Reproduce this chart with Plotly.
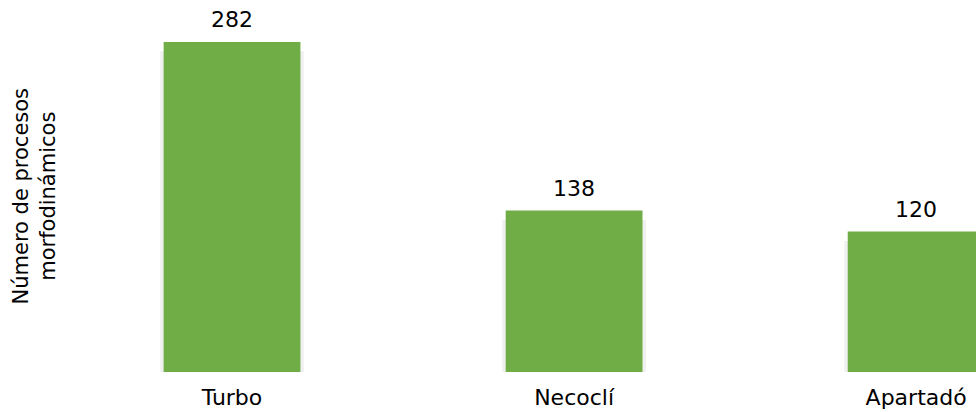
import plotly.graph_objects as go

categories = ["Turbo", "Necoclí", "Apartadó"]
values = [282, 138, 120]
y_title = "Número de procesos<br>morfodinámicos"

GREEN = "#70AD47"
FONT = "DejaVu Sans"
FS = 22

fig = go.Figure()

# soft drop shadow behind the bars
fig.add_trace(go.Bar(
    x=categories, y=[v - 6 for v in values], base=-2,
    width=0.42, marker=dict(color="rgba(0,0,0,0.06)", line=dict(width=0)),
    hoverinfo="skip", showlegend=False,
))
fig.add_trace(go.Bar(
    x=categories, y=values, width=0.40,
    marker=dict(color=GREEN, line=dict(width=0)),
    showlegend=False,
))

for c, v in zip(categories, values):
    fig.add_annotation(x=c, y=v, text=str(v), showarrow=False,
                       yanchor="bottom", yshift=8,
                       font=dict(family=FONT, size=FS, color="#000000"))

fig.add_annotation(text=y_title, textangle=-90, showarrow=False,
                   xref="paper", yref="paper", x=0, y=0.5,
                   xanchor="right", yanchor="middle", xshift=0, yshift=-10,
                   font=dict(family=FONT, size=21, color="#000000"))

fig.update_layout(
    width=976, height=412,
    margin=dict(l=61, r=0, t=0, b=40),
    paper_bgcolor="white", plot_bgcolor="white",
    barmode="overlay",
    font=dict(family=FONT, size=FS, color="#000000"),
    xaxis=dict(range=[-0.5, 2.175], showgrid=False, zeroline=False,
               showline=False, ticks="", tickfont=dict(size=FS),
               ticklabelstandoff=10),
    yaxis=dict(range=[0, 317.9], showgrid=False, zeroline=False,
               showline=False, showticklabels=False, ticks=""),
)

fig.write_html("out.html")
